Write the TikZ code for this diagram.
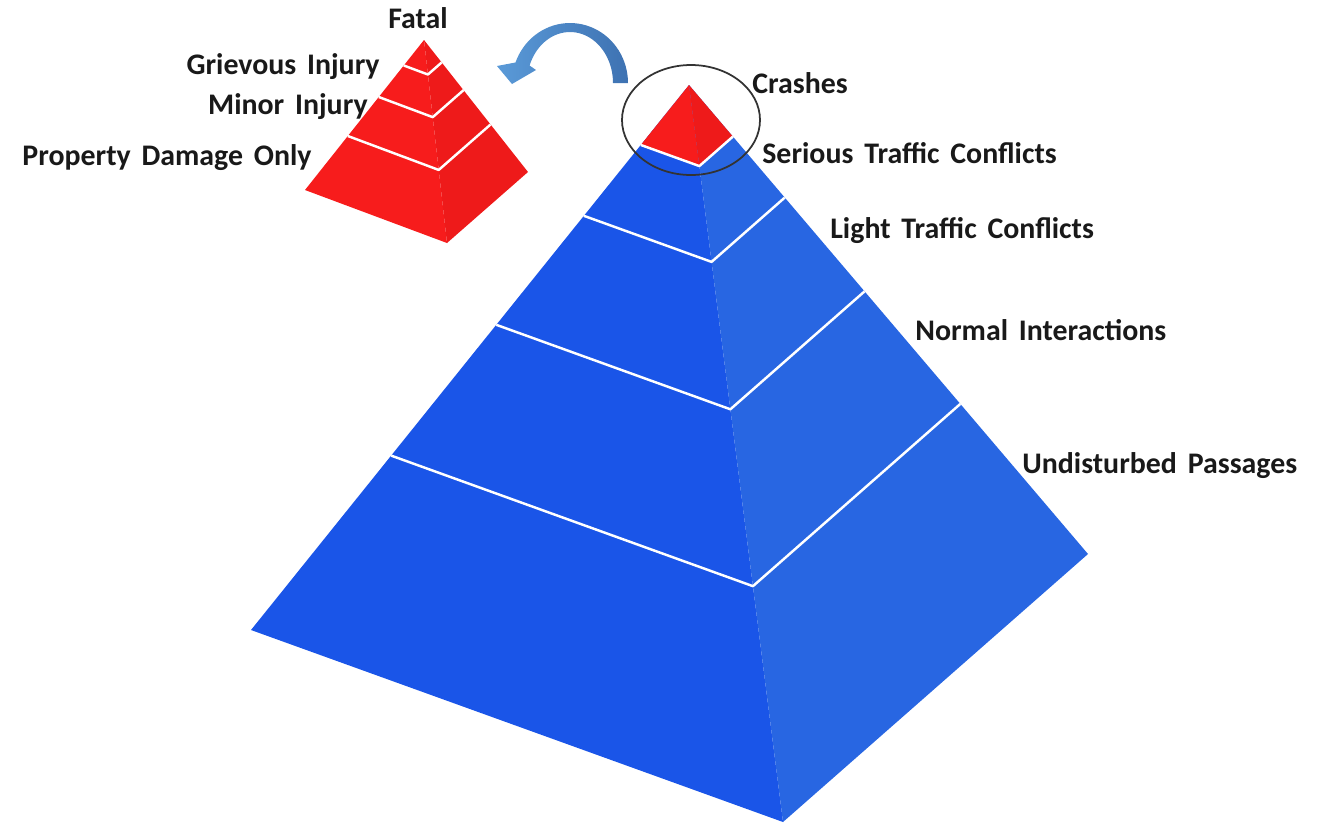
\documentclass[tikz,border=0pt]{standalone}
\usepackage{fontspec}
\setmainfont[WordSpace=1.6]{Carlito}
\usetikzlibrary{calc}

\definecolor{faceblue}{HTML}{1A55E8}
\definecolor{sideblue}{HTML}{2866E2}
\definecolor{facered}{HTML}{F71C1C}
\definecolor{sidered}{HTML}{EE1A1A}
\definecolor{arrowlight}{HTML}{5A9AD8}
\definecolor{arrowdark}{HTML}{3E72B2}

\tikzset{
  tierlabel/.style={font=\bfseries\fontsize{17}{20}\selectfont, inner sep=0pt, text=black!90},
  tierline/.style={white, line width=1.4pt, line join=round},
}

\begin{document}
\begin{tikzpicture}[x=0.02cm, y=-0.02cm]
  \useasboundingbox (0,0) rectangle (1325,826);

  % big pyramid: apex, base corners and front ridge
  \coordinate (apex) at (689,85);
  \coordinate (bl) at (251,630);
  \coordinate (bm) at (783,822);
  \coordinate (br) at (1088,554);

  \fill[faceblue] (apex) -- (bl) -- (bm) -- cycle;
  \fill[sideblue] (apex) -- (bm) -- (br) -- cycle;

  % tier boundaries
  \foreach \t [count=\i] in {0.11,0.24,0.44,0.68} {
    \coordinate (l\i) at ($(apex)!\t!(bl)$);
    \coordinate (m\i) at ($(apex)!\t!(bm)$);
    \coordinate (r\i) at ($(apex)!\t!(br)$);
  }

  % red tip = crashes
  \fill[facered] (apex) -- (l1) -- (m1) -- cycle;
  \fill[sidered] (apex) -- (m1) -- (r1) -- cycle;

  \foreach \i in {1,...,4}
    \draw[tierline] (l\i) -- (m\i) -- (r\i);

  % small pyramid (severity of crashes)
  \coordinate (sapex) at (424,40);
  \coordinate (sbl) at (305,190);
  \coordinate (sbm) at (447,243);
  \coordinate (sbr) at (528,172);

  \fill[facered] (sapex) -- (sbl) -- (sbm) -- cycle;
  \fill[sidered] (sapex) -- (sbm) -- (sbr) -- cycle;

  \foreach \t [count=\i] in {0.17,0.38,0.64} {
    \coordinate (sl\i) at ($(sapex)!\t!(sbl)$);
    \coordinate (sm\i) at ($(sapex)!\t!(sbm)$);
    \coordinate (sr\i) at ($(sapex)!\t!(sbr)$);
    \draw[tierline] (sl\i) -- (sm\i) -- (sr\i);
  }

  % ring around the tip
  \draw[black!80, line width=1pt] (691,120) ellipse [x radius=69, y radius=55];

  % curved arrow from the tip to the small pyramid
  \shade[left color=arrowlight, right color=arrowdark]
    plot[domain=0:160, samples=40] ({570+58*cos(\x)},{83-60*sin(\x)})
    -- (497,66) -- (512,84) -- (536,70)
    -- plot[domain=160:0, samples=40] ({570+43*cos(\x)},{83-51*sin(\x)})
    -- cycle;

  % labels
  \node[tierlabel] (fatal) at (418,18) {Fatal};
  \node[tierlabel, anchor=east] (grievous) at (380,67) {Grievous Injury};
  \node[tierlabel, anchor=east] (minor) at (368,107) {Minor Injury};
  \node[tierlabel, anchor=east] (pdo) at (312,158) {Property Damage Only};

  \node[tierlabel, anchor=west] (crashes) at (752,83) {Crashes};
  \node[tierlabel, anchor=west] (serious) at (762,153) {Serious Traffic Conflicts};
  \node[tierlabel, anchor=west] (light) at (830,231) {Light Traffic Conflicts};
  \node[tierlabel, anchor=west] (normal) at (915,330) {Normal Interactions};
  \node[tierlabel, anchor=west] (undisturbed) at (1022,466) {Undisturbed Passages};
\end{tikzpicture}
\end{document}
